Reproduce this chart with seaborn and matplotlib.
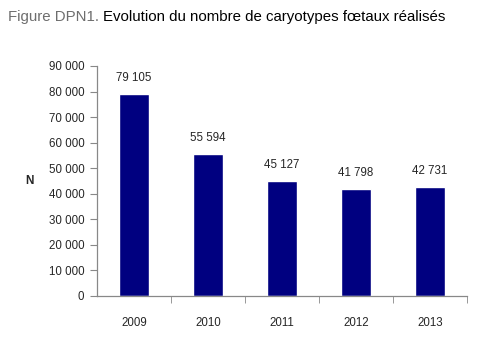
import matplotlib
matplotlib.use("Agg")
import matplotlib.pyplot as plt
import seaborn as sns
import pandas as pd
from matplotlib.ticker import FixedLocator, FuncFormatter

years = ["2009", "2010", "2011", "2012", "2013"]
values = [79105, 55594, 45127, 41798, 42731]
value_labels = ["79 105", "55 594", "45 127", "41 798", "42 731"]
yticks = [0, 10000, 20000, 30000, 40000, 50000, 60000, 70000, 80000, 90000]

sns.set_style("white")
plt.rcParams['font.family'] = ['Liberation Sans', 'DejaVu Sans']

df = pd.DataFrame({"year": years, "N": values})

fig = plt.figure(figsize=(4.82, 3.40), dpi=100)
ax = fig.add_axes([97/482, 1-296/340, 370/482, 230/340])
sns.barplot(data=df, x="year", y="N", color="#000080", saturation=1, width=0.41, ax=ax)

ax.set_xlim(-0.5, 4.5)
ax.set_ylim(0, 90000)
ax.yaxis.set_major_locator(FixedLocator(yticks))
ax.yaxis.set_major_formatter(FuncFormatter(lambda v, p: f"{int(v):,}".replace(",", " ")))

for spine in ["top", "right"]:
    ax.spines[spine].set_visible(False)
for spine in ["left", "bottom"]:
    ax.spines[spine].set_color("#888888")
    ax.spines[spine].set_linewidth(0.9)

ax.tick_params(axis="y", which="major", left=True, length=5, color="#888888", labelsize=8.3, pad=4)
ax.tick_params(axis="x", which="major", bottom=False, length=0, labelsize=8.3, pad=15)
ax.xaxis.set_minor_locator(FixedLocator([0.5, 1.5, 2.5, 3.5, 4.5]))
ax.tick_params(axis="x", which="minor", bottom=True, length=5, color="#888888")

ax.set_xlabel("")
ax.set_ylabel("N", rotation=0, fontsize=8.5, fontweight="bold", labelpad=14, va="center")

for i, (v, lab) in enumerate(zip(values, value_labels)):
    ax.annotate(lab, (i, v), xytext=(0, 7), textcoords="offset points",
                ha="center", va="bottom", fontsize=8.3)

t = fig.text(8/482, 1-17/340, "Figure DPN1. ", color="#6e6e6e", fontsize=10.8, va="center", ha="left")
fig.canvas.draw()
bb = t.get_window_extent()
fig.text(bb.x1/482, 1-17/340, "Evolution du nombre de caryotypes fœtaux réalisés",
         color="black", fontsize=10.8, va="center", ha="left")

fig.savefig("out.png", dpi=100)
